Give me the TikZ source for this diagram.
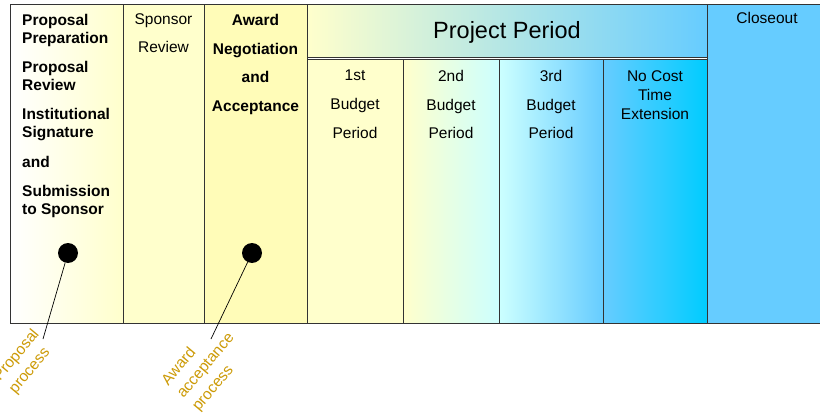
\documentclass[tikz,border=0pt]{standalone}
\usepackage{fontspec}
\setmainfont{Liberation Sans}
\usetikzlibrary{positioning}
\definecolor{pale-yellow}{HTML}{FFFFCC}
\definecolor{award-yellow}{HTML}{FFFCB8}
\definecolor{pale-cyan}{HTML}{CCFFFF}
\definecolor{sky-blue}{HTML}{66CCFF}
\definecolor{deep-cyan}{HTML}{00CCFF}
\definecolor{label-gold}{HTML}{CC9A06}

\begin{document}
\begin{tikzpicture}[x=1pt, y=-1pt,
  phase/.style={draw=black!80, line width=0.9pt, inner sep=0pt, anchor=north west},
  tight/.style={font=\fontsize{15.5}{18}\selectfont, inner sep=0pt},
  loose/.style={font=\fontsize{15.5}{28.6}\selectfont, inner sep=0pt},
  dot/.style={circle, fill=black, inner sep=0pt, minimum size=20pt},
  callout/.style={font=\fontsize{15.5}{20}\selectfont, inner sep=0pt, text=label-gold, align=left, rotate=50}]
\pgfmathsetmacro{\bottom}{323}
\pgfmathsetmacro{\subtop}{59}
\useasboundingbox (0,0) rectangle (820,417);

% phases
\node[phase, left color=white, right color=pale-yellow, minimum width=113pt, minimum height=319pt] (prep) at (10,4) {};
\node[phase, fill=pale-yellow, minimum width=81pt, minimum height=319pt] (sponsor) at (123,4) {};
\node[phase, fill=award-yellow, minimum width=103pt, minimum height=319pt] (award) at (204,4) {};
\node[phase, left color=pale-yellow, right color=sky-blue, minimum width=400pt, minimum height=53pt] (project) at (307,4) {};
\node[phase, fill=pale-yellow, minimum width=96pt, minimum height=264pt] (first) at (307,\subtop) {};
\node[phase, left color=pale-yellow, right color=pale-cyan, minimum width=96pt, minimum height=264pt] (second) at (403,\subtop) {};
\node[phase, left color=pale-cyan, right color=sky-blue, minimum width=104pt, minimum height=264pt] (third) at (499,\subtop) {};
\node[phase, left color=sky-blue, right color=deep-cyan, minimum width=104pt, minimum height=264pt] (extension) at (603,\subtop) {};
\node[phase, fill=sky-blue, minimum width=120pt, minimum height=319pt] (closeout) at (707,4) {};

% texts
\node[tight, font=\fontsize{15.5}{18}\selectfont\bfseries, align=left, anchor=north west] (preptext) at (22,14) {%
Proposal\\Preparation\\[11.5pt]
Proposal\\Review\\[11pt]
Institutional\\Signature\\[11.5pt]
and\\[11pt]
Submission\\to Sponsor};
\node[loose, align=center, anchor=north] (sponsortext) at (163.5,13) {Sponsor\\Review};
\node[loose, font=\fontsize{15.5}{28.6}\selectfont\bfseries, align=center, anchor=north] (awardtext) at (255.5,14) {Award\\Negotiation\\and\\Acceptance};
\node[inner sep=0pt, font=\fontsize{23.5}{28}\selectfont, anchor=base] (projecttext) at (507,39) {Project Period};
\node[loose, align=center, anchor=north] (firsttext) at (355,70) {1st\\Budget\\Period};
\node[loose, align=center, anchor=north] (secondtext) at (451,70) {2nd\\Budget\\Period};
\node[loose, align=center, anchor=north] (thirdtext) at (551,70) {3rd\\Budget\\Period};
\node[tight, font=\fontsize{15.5}{19}\selectfont, align=center, anchor=north] (extensiontext) at (655,70) {No Cost\\Time\\Extension};
\node[tight, anchor=base] (closeouttext) at (767,24) {Closeout};

% milestones
\coordinate (propend) at (43,339);
\coordinate (awardend) at (211,339);
\node[dot] (propdot) at (68,253) {} edge[black, line width=0.7pt] (propend);
\node[dot] (awarddot) at (252,253) {} edge[black, line width=0.7pt] (awardend);
\node[callout] (proplabel) at (24.5,362) {Proposal\\process};
\node[callout] (awardlabel) at (206,366) {Award\\acceptance\\process};
\end{tikzpicture}
\end{document}
